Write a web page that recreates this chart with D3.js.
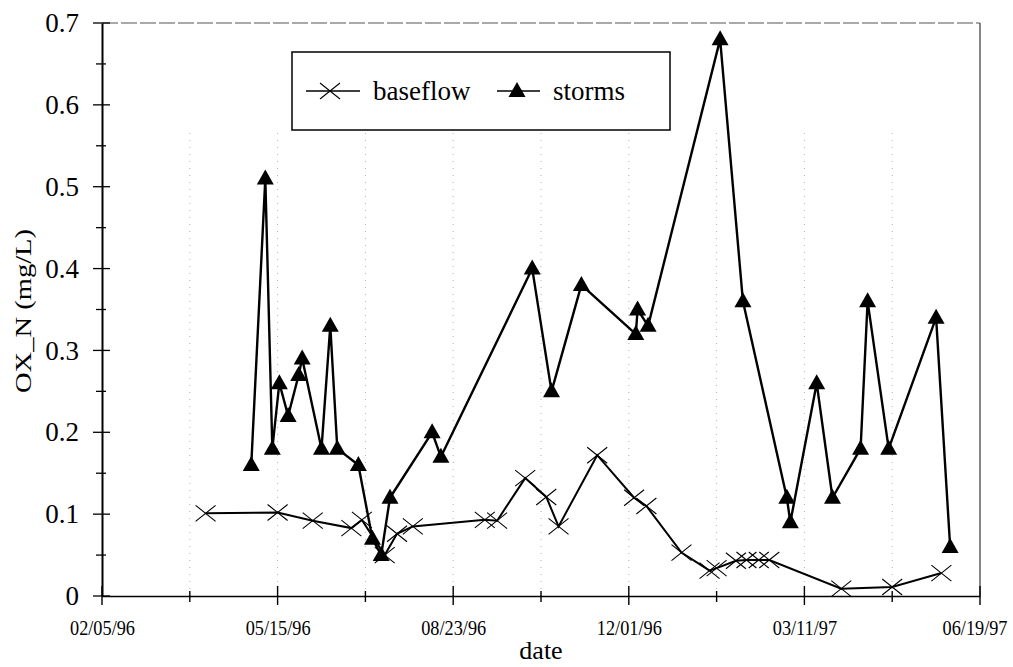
<!DOCTYPE html>
<html>
<head>
<meta charset="utf-8">
<script src="https://cdn.jsdelivr.net/npm/d3@7"></script>
<style>
  html, body { margin: 0; padding: 0; background: #fff; }
  svg { display: block; }
</style>
</head>
<body>
<svg id="chart" width="1013" height="667" font-family="'Liberation Serif', 'Times New Roman', Times, serif"></svg>
<script>
// Sampling dates (mm/dd/yy) and OX_N concentrations in mg/L
const baseflowDates = ["04/04/96","05/15/96","06/04/96","06/26/96","07/02/96","07/15/96","07/22/96","07/31/96",
  "09/10/96","09/17/96","10/03/96","10/15/96","10/22/96","11/13/96","12/04/96","12/11/96","12/31/96",
  "01/16/97","01/20/97","01/31/97","02/06/97","02/13/97","02/19/97","04/01/97","04/30/97","05/28/97"];
const baseflowValues = [0.101,0.102,0.092,0.083,0.093,0.050,0.076,0.085,
  0.093,0.092,0.144,0.121,0.085,0.172,0.120,0.110,0.053,
  0.031,0.034,0.043,0.044,0.044,0.044,0.009,0.011,0.028];

const stormDates = ["04/30/96","05/08/96","05/12/96","05/16/96","05/21/96","05/27/96","05/29/96","06/09/96",
  "06/14/96","06/18/96","06/30/96","07/08/96","07/13/96","07/18/96","08/11/96","08/16/96","10/07/96",
  "10/18/96","11/04/96","12/05/96","12/06/96","12/12/96","01/22/97","02/04/97","03/01/97","03/03/97",
  "03/18/97","03/27/97","04/12/97","04/16/97","04/28/97","05/25/97","06/02/97"];
const stormValues = [0.16,0.51,0.18,0.26,0.22,0.27,0.29,0.18,
  0.33,0.18,0.16,0.07,0.05,0.12,0.20,0.17,0.40,
  0.25,0.38,0.32,0.35,0.33,0.68,0.36,0.12,0.09,
  0.26,0.12,0.18,0.36,0.18,0.34,0.06];

// Axis ticks: labelled every 100 days, unlabelled every 50 days in between
const xTickLabels = ["02/05/96","05/15/96","08/23/96","12/01/96","03/11/97","06/19/97"];
const yTickValues = [0, 0.1, 0.2, 0.3, 0.4, 0.5, 0.6, 0.7];
const yMinorValues = [0.05, 0.15, 0.25, 0.35, 0.45, 0.55, 0.65];

const seriesNames = ["baseflow", "storms"];
const yTitle = "OX_N (mg/L)";
const xTitle = "date";

const serif = "'Liberation Serif', 'Times New Roman', Times, serif";
const parse = d3.utcParse("%m/%d/%y");
const fmt = d3.utcFormat("%m/%d/%y");

const plot = { left: 102, right: 980, top: 23, bottom: 596 };

const majorDates = xTickLabels.map(parse);
const minorDates = majorDates.slice(1).map((d, i) =>
  new Date((d.getTime() + majorDates[i].getTime()) / 2));

const x = d3.scaleUtc().domain([majorDates[0], majorDates[majorDates.length - 1]]).range([plot.left, plot.right]);
const y = d3.scaleLinear().domain([0, 0.7]).range([plot.bottom, plot.top]);

const svg = d3.select("#chart");

// Faint dotted gridlines at every interior tick
const gridDates = majorDates.slice(1, -1).concat(minorDates);
svg.append("g").selectAll("line").data(gridDates).join("line")
  .attr("x1", d => x(d)).attr("x2", d => x(d))
  .attr("y1", plot.top + 110).attr("y2", plot.bottom)
  .attr("stroke", "#b0b0b0").attr("stroke-width", 1)
  .attr("stroke-dasharray", "1,6");

// Plot frame (top and right)
svg.append("line").attr("x1", plot.left).attr("x2", plot.right).attr("y1", plot.top).attr("y2", plot.top)
  .attr("stroke", "#555").attr("stroke-width", 1.2).attr("stroke-dasharray", "16,3");
svg.append("line").attr("x1", plot.right).attr("x2", plot.right).attr("y1", plot.top).attr("y2", plot.bottom)
  .attr("stroke", "#444").attr("stroke-width", 1.3);

// Y axis
const yAxis = svg.append("g").attr("transform", `translate(${plot.left},0)`)
  .call(d3.axisLeft(y).tickValues(yTickValues).tickSize(0).tickPadding(23)
    .tickFormat(d => d === 0 ? "0" : d3.format(".1f")(d)));
yAxis.attr("font-family", serif).attr("font-size", 27);
yAxis.select(".domain").attr("stroke", "#000").attr("stroke-width", 2);
svg.append("g").selectAll("line").data(yTickValues).join("line")
  .attr("x1", plot.left - 9).attr("x2", plot.left + 8)
  .attr("y1", d => y(d)).attr("y2", d => y(d))
  .attr("stroke", "#000").attr("stroke-width", 1.3);
svg.append("g").selectAll("line").data(yMinorValues).join("line")
  .attr("x1", plot.left - 6).attr("x2", plot.left + 4)
  .attr("y1", d => y(d)).attr("y2", d => y(d))
  .attr("stroke", "#000").attr("stroke-width", 1.3);

// X axis: narrow date labels
const xAxis = svg.append("g").attr("transform", `translate(0,${plot.bottom})`)
  .call(d3.axisBottom(x).tickValues(majorDates).tickSize(0).tickPadding(24).tickFormat(fmt));
xAxis.attr("font-family", serif).attr("font-size", 21);
xAxis.select(".domain").attr("stroke", "#000").attr("stroke-width", 1.6);
xAxis.selectAll("text").attr("transform", "scale(0.87,1)");
// last label sits flush against the right edge
xAxis.selectAll(".tick").filter((d, i, n) => i === n.length - 1).select("text")
  .attr("text-anchor", "end").attr("x", 31);
svg.append("g").selectAll("line").data(majorDates).join("line")
  .attr("x1", d => x(d)).attr("x2", d => x(d))
  .attr("y1", plot.bottom - 10).attr("y2", plot.bottom + 9)
  .attr("stroke", "#000").attr("stroke-width", 1.4);
svg.append("g").selectAll("line").data(minorDates).join("line")
  .attr("x1", d => x(d)).attr("x2", d => x(d))
  .attr("y1", plot.bottom - 5).attr("y2", plot.bottom + 6)
  .attr("stroke", "#000").attr("stroke-width", 1.4);

// Axis titles
svg.append("text").attr("x", 541).attr("y", 659).attr("text-anchor", "middle")
  .attr("font-family", serif).attr("font-size", 26).text(xTitle);
svg.append("text").attr("transform", "translate(31,311) rotate(-90)")
  .attr("text-anchor", "middle").attr("font-family", serif).attr("font-size", 24)
  .attr("textLength", 164).attr("lengthAdjust", "spacingAndGlyphs").text(yTitle);

// Series
const baseflow = baseflowDates.map((d, i) => ({ date: parse(d), value: baseflowValues[i] }));
const storms = stormDates.map((d, i) => ({ date: parse(d), value: stormValues[i] }));

const line = d3.line().x(d => x(d.date)).y(d => y(d.value));

const xMark = "M-10,-8L10,8M-10,8L10,-8";
const triMark = "M0,-9L8.5,6L-8.5,6Z";

svg.append("path").datum(baseflow).attr("d", line)
  .attr("fill", "none").attr("stroke", "#000").attr("stroke-width", 2);
svg.append("g").selectAll("path").data(baseflow).join("path")
  .attr("transform", d => `translate(${x(d.date)},${y(d.value)})`)
  .attr("d", xMark).attr("fill", "none").attr("stroke", "#000").attr("stroke-width", 1.1);

svg.append("path").datum(storms).attr("d", line)
  .attr("fill", "none").attr("stroke", "#000").attr("stroke-width", 2.4)
  .attr("stroke-linejoin", "round");
svg.append("g").selectAll("path").data(storms).join("path")
  .attr("transform", d => `translate(${x(d.date)},${y(d.value)})`)
  .attr("d", triMark).attr("fill", "#000");

// Legend
const lg = svg.append("g").attr("font-family", serif).attr("font-size", 27);
lg.append("rect").attr("x", 292).attr("y", 52).attr("width", 378).attr("height", 78)
  .attr("fill", "#fff").attr("stroke", "#000").attr("stroke-width", 1.5);
lg.append("line").attr("x1", 306).attr("x2", 360).attr("y1", 91).attr("y2", 91)
  .attr("stroke", "#000").attr("stroke-width", 1.6);
lg.append("path").attr("transform", "translate(330,91)").attr("d", xMark)
  .attr("fill", "none").attr("stroke", "#000").attr("stroke-width", 1.1);
lg.append("text").attr("x", 373).attr("y", 100).text(seriesNames[0]);
lg.append("line").attr("x1", 497).attr("x2", 540).attr("y1", 91).attr("y2", 91)
  .attr("stroke", "#000").attr("stroke-width", 1.6);
lg.append("path").attr("transform", "translate(517,91)").attr("d", triMark).attr("fill", "#000");
lg.append("text").attr("x", 553).attr("y", 100).text(seriesNames[1]);
</script>
</body>
</html>
